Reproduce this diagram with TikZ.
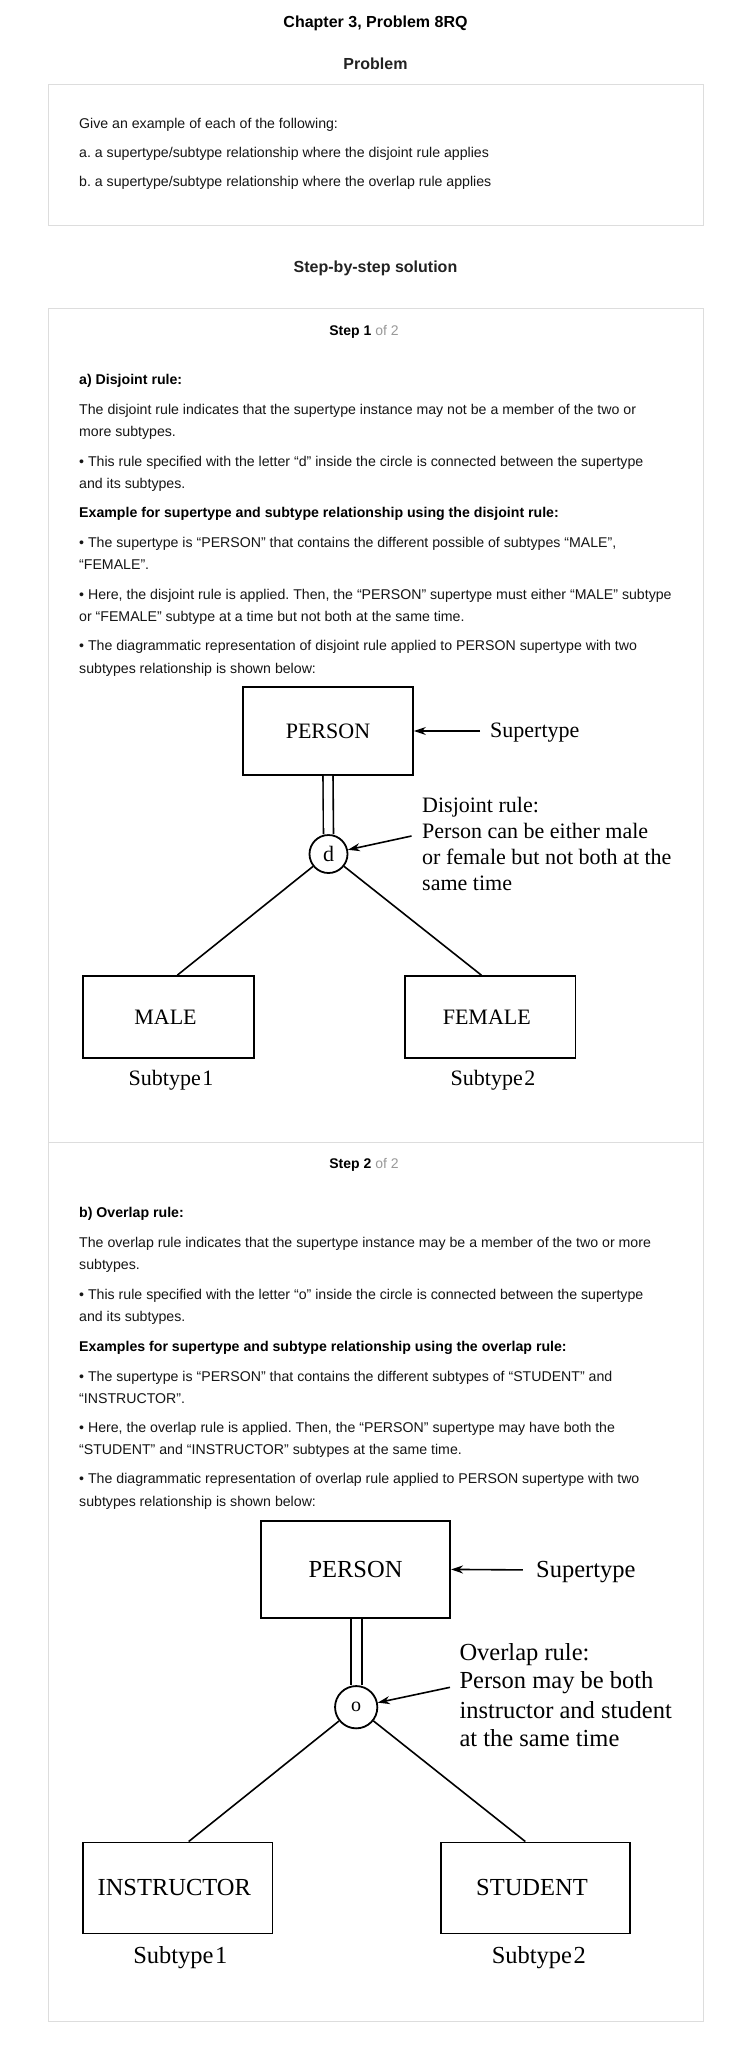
\documentclass[tikz,border=0pt]{standalone}
\usepackage{fontspec}
\setmainfont{Liberation Sans}
\newfontfamily\dgfont{Liberation Serif}
\usetikzlibrary{arrows.meta}
\definecolor{txt}{HTML}{151515}
\definecolor{headc}{HTML}{222222}
\definecolor{bord}{HTML}{DDDDDD}
\definecolor{mute}{HTML}{999999}
\frenchspacing
\begin{document}
\frenchspacing
\begin{tikzpicture}[x=1pt,y=-1pt,
  body/.style={anchor=base west, inner sep=0, text=txt, font=\fontsize{14.15}{17}\selectfont},
  bodyb/.style={anchor=base west, inner sep=0, text=black, font=\fontsize{14.15}{17}\selectfont\bfseries},
  head/.style={anchor=base, inner sep=0, font=\fontsize{16}{19}\selectfont\bfseries},
  stephead/.style={anchor=base, inner sep=0, font=\fontsize{14}{17}\selectfont},
  panel/.style={draw=bord, line width=1pt},
  entA/.style={draw, line width=1.8pt, inner sep=0, font=\dgfont\fontsize{22}{26}\selectfont},
  entB/.style={draw, line width=1.8pt, inner sep=0, font=\dgfont\fontsize{24.5}{29}\selectfont},
  lblA/.style={inner sep=0, font=\dgfont\fontsize{22}{26}\selectfont},
  lblB/.style={inner sep=0, font=\dgfont\fontsize{24.5}{29}\selectfont},
  conn/.style={line width=1.6pt},
  dblA/.style={double, double distance=8.4pt, line width=1.6pt},
  dblB/.style={double, double distance=9.3pt, line width=1.7pt},
  arr/.style={line width=1.6pt, -{Stealth[length=12pt,width=8pt]}}
]
\fill[white] (0,0) rectangle (752,2048);
\useasboundingbox (0,0) rectangle (752,2048);

% ---------- header ----------
\node[head, text=black] (title) at (375.5,27) {Chapter 3, Problem 8RQ};
\node[head, text=headc] (probhead) at (375.5,69) {Problem};
\draw[panel] (48,84.3) rectangle (703,225.7);
\node[body] (q0) at (79,128.5) {Give an example of each of the following:};
\node[body] (q1) at (79,157.7) {a. a supertype/subtype relationship where the disjoint rule applies};
\node[body] (q2) at (79,186.7) {b. a supertype/subtype relationship where the overlap rule applies};
\node[head, text=headc] (solhead) at (375.5,272.7) {Step-by-step solution};

% ---------- solution panel ----------
\draw[panel] (48,308) rectangle (703,2021.5);
\draw[panel] (48,1142) -- (703,1142);

% ---------- step 1 ----------
\node[stephead] (s1) at (364,335) {\textbf{Step 1} \textcolor{mute}{of 2}};
\node[bodyb] (a0) at (79,384) {a) Disjoint rule:};
\node[body] (a1) at (79,414) {The disjoint rule indicates that the supertype instance may not be a member of the two or};
\node[body] (a2) at (79,436) {more subtypes.};
\node[body] (a3) at (79,466) {• This rule specified with the letter “d” inside the circle is connected between the supertype};
\node[body] (a4) at (79,488) {and its subtypes.};
\node[bodyb] (a5) at (79,517) {Example for supertype and subtype relationship using the disjoint rule:};
\node[body] (a6) at (79,547) {• The supertype is “PERSON” that contains the different possible of subtypes “MALE”,};
\node[body] (a7) at (79,569) {“FEMALE”.};
\node[body] (a8) at (79,599) {• Here, the disjoint rule is applied. Then, the “PERSON” supertype must either “MALE” subtype};
\node[body] (a9) at (79,621) {or “FEMALE” subtype at a time but not both at the same time.};
\node[body] (a10) at (79,650) {• The diagrammatic representation of disjoint rule applied to PERSON supertype with two};
\node[body] (a11) at (79,673) {subtypes relationship is shown below:};

% diagram 1
\node[entA, minimum width=170pt, minimum height=88pt] (p1) at (328,731) {PERSON};
\node[entA, circle, minimum size=38pt] (d1) at (328.5,854) {d};
\node[entA, minimum width=170.7pt, minimum height=82pt] (male) at (168.4,1017) {\kern-5.8pt MALE};
\node[entA, minimum width=170.5pt, minimum height=82pt] (female) at (490.3,1017) {\kern-7pt FEMALE};
\node[lblA, anchor=base] (sub1a) at (171,1085) {Subtype\kern1.5pt1};
\node[lblA, anchor=base] (sub2a) at (493,1085) {Subtype\kern1.5pt2};
\node[lblA, anchor=base west] (supa) at (490,737.7) {Supertype};
\coordinate (supaarr) at (480,731);
\draw[arr] (supaarr) -- (p1.east);
\draw[dblA] (p1.south) -- (d1.north);
\draw[conn] (d1) -- ([xshift=9pt]male.north);
\draw[conn] (d1) -- ([xshift=-9pt]female.north);
\node[lblA, anchor=base west] (dr0) at (422,812) {Disjoint rule:};
\node[lblA, anchor=base west] (dr1) at (422,838) {Person can be either male};
\node[lblA, anchor=base west] (dr2) at (422,864) {or female but not both at the};
\node[lblA, anchor=base west] (dr3) at (422,890) {same time};
\coordinate (draarr) at (411.5,836);
\draw[arr] (draarr) -- (d1);

% ---------- step 2 ----------
\node[stephead] (s2) at (364,1168) {\textbf{Step 2} \textcolor{mute}{of 2}};
\node[bodyb] (b0) at (79,1217) {b) Overlap rule:};
\node[body] (b1) at (79,1247) {The overlap rule indicates that the supertype instance may be a member of the two or more};
\node[body] (b2) at (79,1269) {subtypes.};
\node[body] (b3) at (79,1299) {• This rule specified with the letter “o” inside the circle is connected between the supertype};
\node[body] (b4) at (79,1321) {and its subtypes.};
\node[bodyb] (b5) at (79,1351) {Examples for supertype and subtype relationship using the overlap rule:};
\node[body] (b6) at (79,1381) {• The supertype is “PERSON” that contains the different subtypes of “STUDENT” and};
\node[body] (b7) at (79,1403) {“INSTRUCTOR”.};
\node[body] (b8) at (79,1432) {• Here, the overlap rule is applied. Then, the “PERSON” supertype may have both the};
\node[body] (b9) at (79,1454) {“STUDENT” and “INSTRUCTOR” subtypes at the same time.};
\node[body] (b10) at (79,1483) {• The diagrammatic representation of overlap rule applied to PERSON supertype with two};
\node[body] (b11) at (79,1506) {subtypes relationship is shown below:};

% diagram 2
\node[entB, minimum width=189.3pt, minimum height=96.7pt] (p2) at (355.5,1569.4) {PERSON};
\node[entB, circle, minimum size=42.3pt, font=\dgfont\fontsize{20}{24}\selectfont] (o1) at (356.2,1707.2) {o};
\node[entB, minimum width=189.4pt, minimum height=91pt] (instr) at (177.7,1887.9) {\kern-6.8pt INSTRUCTOR};
\node[entB, minimum width=189.3pt, minimum height=91pt] (stud) at (535.3,1887.9) {\kern-6.6pt STUDENT};
\node[lblB, anchor=base] (sub1b) at (180.3,1963.8) {Subtype\kern1.5pt1};
\node[lblB, anchor=base] (sub2b) at (538.8,1963.8) {Subtype\kern1.5pt2};
\node[lblB, anchor=base west] (supb) at (536,1577.6) {Supertype};
\coordinate (supbarr) at (522.8,1569.9);
\draw[arr] (supbarr) -- (p2.east);
\draw[dblB] ([xshift=1pt]p2.south) -- ([xshift=0.3pt]o1.north);
\draw[conn] (o1) -- ([xshift=11pt]instr.north);
\draw[conn] (o1) -- ([xshift=-10pt]stud.north);
\node[lblB, anchor=base west] (or0) at (459.3,1660) {Overlap rule:};
\node[lblB, anchor=base west] (or1) at (459.3,1688.5) {Person may be both};
\node[lblB, anchor=base west] (or2) at (459.3,1718) {instructor and student};
\node[lblB, anchor=base west] (or3) at (459.3,1746.7) {at the same time};
\coordinate (orarr) at (450,1687.3);
\draw[arr] (orarr) -- (o1);
\end{tikzpicture}
\end{document}
